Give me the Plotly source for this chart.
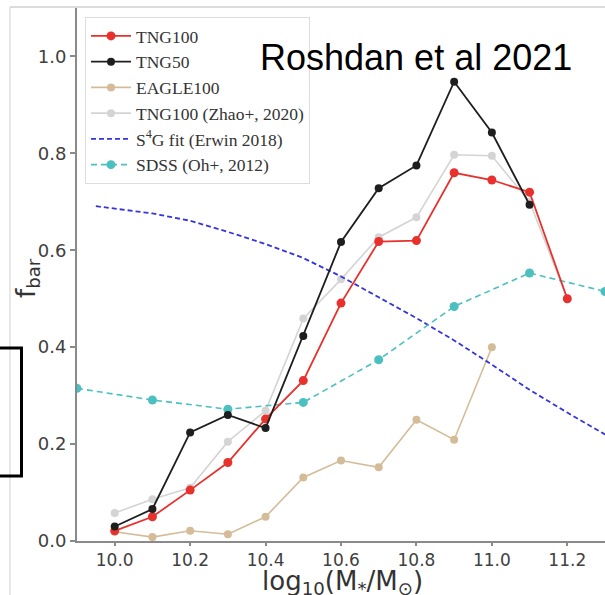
import plotly.graph_objects as go

# ---- data ----
x_tng100 = [10.0, 10.1, 10.2, 10.3, 10.4, 10.5, 10.6, 10.7, 10.8, 10.9, 11.0, 11.1, 11.2]
y_tng100 = [0.021, 0.050, 0.105, 0.162, 0.252, 0.331, 0.491, 0.618, 0.620, 0.760, 0.745, 0.720, 0.500]

x_tng50 = [10.0, 10.1, 10.2, 10.3, 10.4, 10.5, 10.6, 10.7, 10.8, 10.9, 11.0, 11.1]
y_tng50 = [0.030, 0.066, 0.224, 0.260, 0.233, 0.423, 0.617, 0.728, 0.775, 0.948, 0.843, 0.694]

x_eagle = [10.0, 10.1, 10.2, 10.3, 10.4, 10.5, 10.6, 10.7, 10.8, 10.9, 11.0]
y_eagle = [0.019, 0.008, 0.021, 0.014, 0.050, 0.131, 0.166, 0.152, 0.250, 0.209, 0.400]

x_zhao = [10.0, 10.1, 10.2, 10.3, 10.4, 10.5, 10.6, 10.7, 10.8, 10.9, 11.0, 11.1, 11.2]
y_zhao = [0.058, 0.086, 0.110, 0.205, 0.269, 0.459, 0.540, 0.627, 0.668, 0.797, 0.795, 0.700, 0.500]

x_s4g = [9.95, 10.0, 10.1, 10.2, 10.3, 10.4, 10.5, 10.6, 10.7, 10.8, 10.9, 11.0, 11.1, 11.2, 11.3]
y_s4g = [0.691, 0.686, 0.676, 0.661, 0.638, 0.613, 0.584, 0.546, 0.503, 0.460, 0.414, 0.364, 0.312, 0.265, 0.220]

x_sdss = [9.9, 10.1, 10.3, 10.5, 10.7, 10.9, 11.1, 11.3]
y_sdss = [0.315, 0.291, 0.272, 0.286, 0.374, 0.484, 0.553, 0.515]

x_ticks = [10.0, 10.2, 10.4, 10.6, 10.8, 11.0, 11.2]
y_ticks = [0.0, 0.2, 0.4, 0.6, 0.8, 1.0]

names = ["TNG100", "TNG50", "EAGLE100", "TNG100 (Zhao+, 2020)",
         "S<sup>4</sup>G fit (Erwin 2018)", "SDSS (Oh+, 2012)"]

fig = go.Figure()

fig.add_trace(go.Scatter(x=x_zhao, y=y_zhao, name=names[3], mode="lines+markers",
                         line=dict(color="#d4d4d4", width=1.6),
                         marker=dict(color="#d4d4d4", size=8), legendrank=4))
fig.add_trace(go.Scatter(x=x_eagle, y=y_eagle, name=names[2], mode="lines+markers",
                         line=dict(color="#d4bc98", width=1.6),
                         marker=dict(color="#d4bc98", size=8), legendrank=3))
fig.add_trace(go.Scatter(x=x_s4g, y=y_s4g, name=names[4], mode="lines",
                         line=dict(color="#3535dc", width=1.8, dash="5px,3px"),
                         legendrank=5))
fig.add_trace(go.Scatter(x=x_sdss, y=y_sdss, name=names[5], mode="lines+markers",
                         line=dict(color="#4cc0c0", width=1.6, dash="6px,4px"),
                         marker=dict(color="#4cc0c0", size=9), legendrank=6))
fig.add_trace(go.Scatter(x=x_tng100, y=y_tng100, name=names[0], mode="lines+markers",
                         line=dict(color="#e8312c", width=1.8),
                         marker=dict(color="#e8312c", size=9), legendrank=1))
fig.add_trace(go.Scatter(x=x_tng50, y=y_tng50, name=names[1], mode="lines+markers",
                         line=dict(color="#1e1e1e", width=1.8),
                         marker=dict(color="#1e1e1e", size=8), legendrank=2))

L, R, T, B = 77, 0, 8, 54
W, H = 605, 595
pw, ph = W - L - R, H - T - B


def px(x):
    return (x - L) / pw


def py(y):
    return (H - B - y) / ph


fig.update_layout(
    width=W, height=H,
    margin=dict(l=L, r=R, t=T, b=B, pad=0),
    paper_bgcolor="white", plot_bgcolor="white",
    showlegend=True,
    legend=dict(x=px(85), y=py(17), xanchor="left", yanchor="top",
                bgcolor="rgba(255,255,255,0)", bordercolor="#dddddd", borderwidth=1,
                font=dict(family="Liberation Serif", size=17.5, color="#333333"),
                tracegroupgap=0, itemwidth=40),
    xaxis=dict(range=[9.9, 11.3], tickvals=x_ticks, ticktext=[f"{v:.1f}" for v in x_ticks],
               showgrid=False, zeroline=False, showline=True, linecolor="#8a8a8a", linewidth=2,
               ticks="outside", ticklen=3, tickcolor="#8a8a8a", tickwidth=1.5,
               tickfont=dict(family="DejaVu Sans", size=17, color="#404040")),
    yaxis=dict(range=[0, 1.1], tickvals=y_ticks, ticktext=[f"{v:.1f}" for v in y_ticks],
               showgrid=False, zeroline=False, showline=True, linecolor="#8a8a8a", linewidth=2,
               ticks="outside", ticklen=5, tickcolor="#8a8a8a", tickwidth=1.5,
               tickfont=dict(family="DejaVu Sans", size=18, color="#404040")),
    shapes=[
        # screenshot frame lines
        dict(type="line", xref="paper", yref="paper", x0=px(10), x1=1.0, y0=py(7), y1=py(7),
             line=dict(color="#d0d0d0", width=1.5)),
        dict(type="line", xref="paper", yref="paper", x0=px(10), x1=px(10), y0=py(7), y1=py(595),
             line=dict(color="#d8d8d8", width=1.2)),
        # black bracket on left
        dict(type="path", xref="paper", yref="paper",
             path=f"M {px(-2)} {py(348)} L {px(21.5)} {py(348)} L {px(21.5)} {py(476)} L {px(-2)} {py(476)}",
             line=dict(color="black", width=3)),
    ],
    annotations=[
        dict(text="Roshdan et al 2021", xref="paper", yref="paper", x=px(416), y=py(57),
             xanchor="center", yanchor="middle", showarrow=False,
             font=dict(family="Liberation Sans", size=36, color="black")),
        dict(text="log<sub>10</sub>(M<sub>*</sub>/M<sub>⊙</sub>)", xref="paper", yref="paper",
             x=px(342), y=py(582), xanchor="center", yanchor="middle", showarrow=False,
             font=dict(family="DejaVu Sans", size=26, color="#333333")),
        dict(text="f<sub>bar</sub>", xref="paper", yref="paper", textangle=-90,
             x=px(27), y=py(278), xanchor="center", yanchor="middle", showarrow=False,
             font=dict(family="DejaVu Sans", size=26, color="#333333")),
    ],
)

fig.write_html("out.html")
